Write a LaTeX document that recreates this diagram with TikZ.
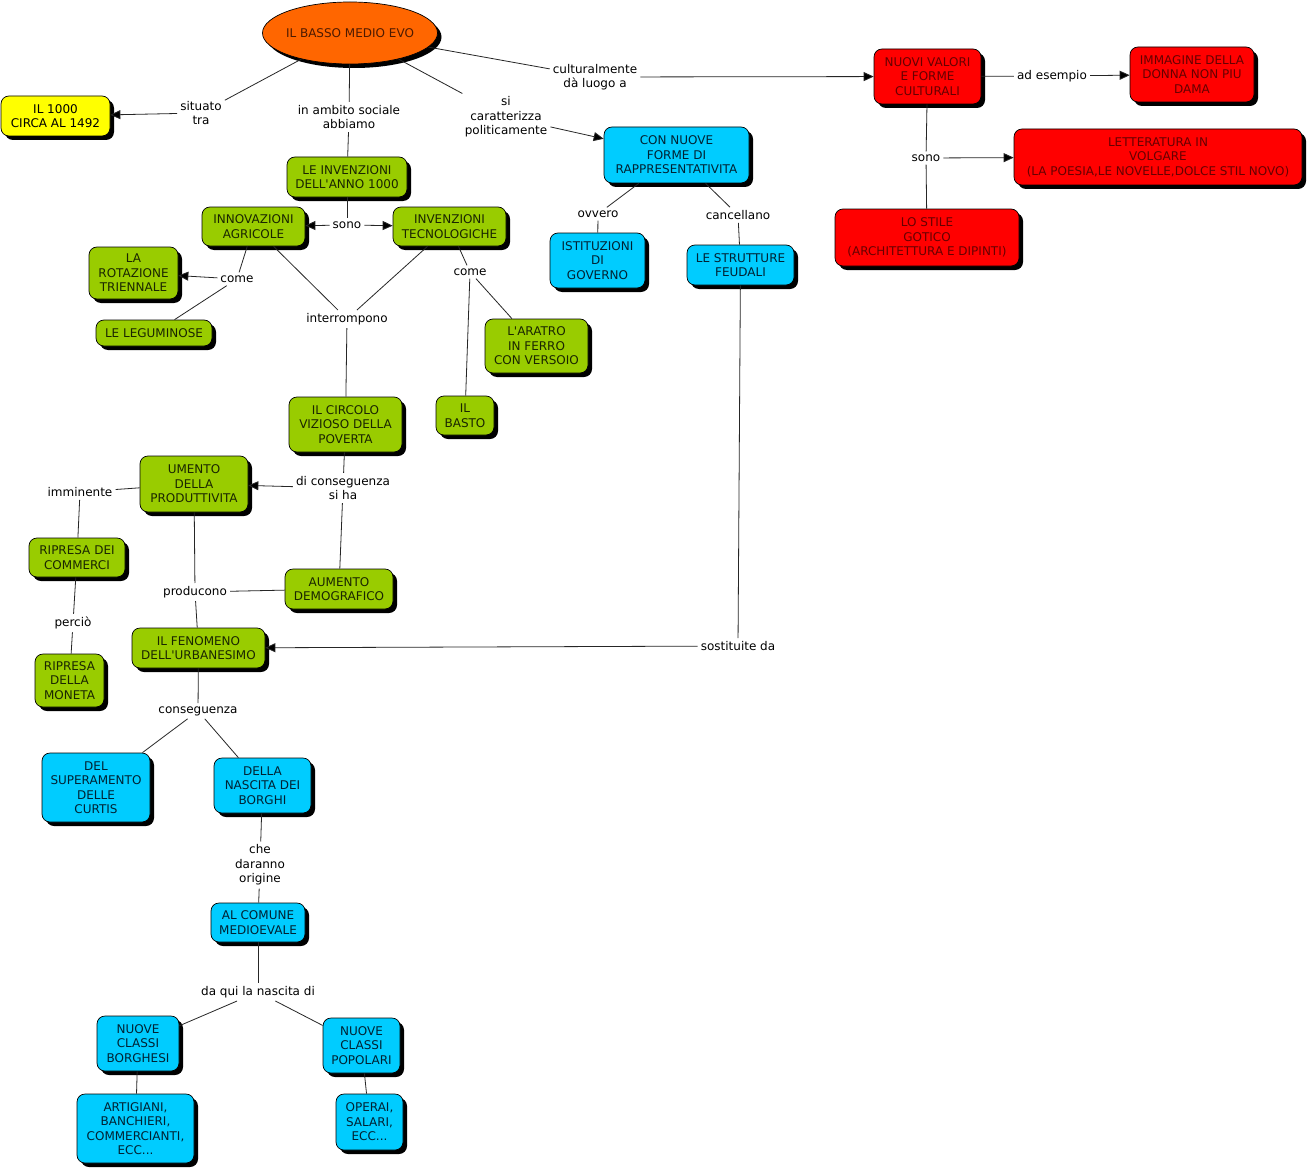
\documentclass[tikz,border=0pt]{standalone}
\usepackage{fontspec}
\setmainfont{DejaVu Sans}
\usepackage{tikz}
\usetikzlibrary{arrows.meta, shapes.geometric, shadows}

\definecolor{mapgreen}{HTML}{99CC00}
\definecolor{mapcyan}{HTML}{00CCFF}
\definecolor{mapred}{HTML}{FF0000}
\definecolor{maporange}{HTML}{FF6600}
\definecolor{mapyellow}{HTML}{FFFF00}
\definecolor{inkgreen}{HTML}{1A2600}
\definecolor{inkcyan}{HTML}{002233}
\definecolor{inkred}{HTML}{660000}
\definecolor{inkorange}{HTML}{4D1A00}

\begin{document}
\begin{tikzpicture}[x=1pt, y=-1pt, font=\fontsize{12}{14.5}\selectfont,
  box/.style={rectangle, rounded corners=8pt, draw=black, line width=0.7pt, align=center, inner sep=2pt,
    drop shadow={shadow xshift=4pt, shadow yshift=-4pt, fill=black, opacity=1}},
  greenbox/.style={box, fill=mapgreen, text=inkgreen},
  cyanbox/.style={box, fill=mapcyan, text=inkcyan},
  redbox/.style={box, fill=mapred, text=inkred},
  yellowbox/.style={box, fill=mapyellow, text=black},
  phrase/.style={align=center, inner sep=3pt, text=black},
  link/.style={draw=black!85, line width=0.8pt},
  arr/.style={link, -{Triangle[length=10pt, width=9pt, fill=black]}}]
  \fill[white] (0,0) rectangle (1308,1169);
  \useasboundingbox (0,0) rectangle (1308,1169);
  % main topic
  \node[ellipse, draw=black, line width=0.7pt, fill=maporange, text=inkorange, minimum width=175pt, minimum height=62pt, inner sep=0pt,
    drop shadow={shadow xshift=4pt, shadow yshift=-4pt, fill=black, opacity=1}] (evo) at (350,33) {\makebox[90pt]{IL BASSO MEDIO EVO}};
  \node[yellowbox, minimum width=109pt, minimum height=40pt] (anno) at (55.5,116) {IL 1000\\CIRCA AL 1492};

  % social side (green)
  \node[greenbox, minimum width=120pt, minimum height=40pt] (invenzioni) at (347,177) {LE INVENZIONI\\DELL\textquotesingle ANNO 1000};
  \node[greenbox, minimum width=103pt, minimum height=39pt] (agricole) at (253.5,226.5) {INNOVAZIONI\\AGRICOLE};
  \node[greenbox, minimum width=113pt, minimum height=39pt] (tecno) at (449.5,226.5) {INVENZIONI\\TECNOLOGICHE};
  \node[greenbox, minimum width=89pt, minimum height=52pt] (rotazione) at (133.5,273) {LA\\ROTAZIONE\\TRIENNALE};
  \node[greenbox, minimum width=116pt, minimum height=26pt] (leguminose) at (154,333) {LE LEGUMINOSE};
  \node[greenbox, minimum width=103pt, minimum height=54pt] (aratro) at (536.5,346) {L\textquotesingle ARATRO\\IN FERRO\\CON VERSOIO};
  \node[greenbox, minimum width=58pt, minimum height=39pt] (basto) at (465,415.5) {IL\\BASTO};
  \node[greenbox, minimum width=113pt, minimum height=55pt] (circolo) at (345.5,424.5) {IL CIRCOLO\\VIZIOSO DELLA\\POVERTA};
  \node[greenbox, minimum width=108pt, minimum height=56pt] (produttivita) at (194,484) {UMENTO\\DELLA\\PRODUTTIVITA};
  \node[greenbox, minimum width=96pt, minimum height=39pt] (commerci) at (77,557.5) {RIPRESA DEI\\COMMERCI};
  \node[greenbox, minimum width=108pt, minimum height=40pt] (aumento) at (339,589) {AUMENTO\\DEMOGRAFICO};
  \node[greenbox, minimum width=133pt, minimum height=40pt] (urbanesimo) at (198.5,648) {IL FENOMENO\\DELL\textquotesingle URBANESIMO};
  \node[greenbox, minimum width=69pt, minimum height=53pt] (moneta) at (69.5,680.5) {RIPRESA\\DELLA\\MONETA};

  % urban consequences (cyan)
  \node[cyanbox, minimum width=108pt, minimum height=69pt] (curtis) at (96,787.5) {DEL\\SUPERAMENTO\\DELLE\\CURTIS};
  \node[cyanbox, minimum width=97pt, minimum height=55pt] (borghi) at (262.5,785.5) {DELLA\\NASCITA DEI\\BORGHI};
  \node[cyanbox, minimum width=94pt, minimum height=39pt] (comune) at (258,922.5) {AL COMUNE\\MEDIOEVALE};
  \node[cyanbox, minimum width=82pt, minimum height=55pt] (borghesi) at (138,1043.5) {NUOVE\\CLASSI\\BORGHESI};
  \node[cyanbox, minimum width=77pt, minimum height=55pt] (popolari) at (361.5,1045.5) {NUOVE\\CLASSI\\POPOLARI};
  \node[cyanbox, minimum width=117pt, minimum height=69pt] (artigiani) at (135.5,1128.5) {ARTIGIANI,\\BANCHIERI,\\COMMERCIANTI,\\ECC...};
  \node[cyanbox, minimum width=67pt, minimum height=56pt] (operai) at (369.5,1122) {OPERAI,\\SALARI,\\ECC...};

  % political side (cyan)
  \node[cyanbox, minimum width=145pt, minimum height=56pt] (rappr) at (676.5,155) {CON NUOVE\\FORME DI\\RAPPRESENTATIVITA};
  \node[cyanbox, minimum width=95pt, minimum height=55pt] (istituzioni) at (597.5,260.5) {ISTITUZIONI\\DI\\GOVERNO};
  \node[cyanbox, minimum width=107pt, minimum height=40pt] (feudali) at (740.5,265) {LE STRUTTURE\\FEUDALI};

  % cultural side (red)
  \node[redbox, minimum width=107pt, minimum height=55pt] (nuovi) at (927.5,76.5) {NUOVI VALORI\\E FORME\\CULTURALI};
  \node[redbox, minimum width=124pt, minimum height=55pt] (immagine) at (1192,74.5) {IMMAGINE DELLA\\DONNA NON PIU\\DAMA};
  \node[redbox, minimum width=288pt, minimum height=56pt] (letteratura) at (1158,157) {LETTERATURA IN\\VOLGARE\\(LA POESIA,LE NOVELLE,DOLCE STIL NOVO)};
  \node[redbox, minimum width=184pt, minimum height=57pt] (gotico) at (927,237.5) {LO STILE\\GOTICO\\(ARCHITETTURA E DIPINTI)};

  % linking phrases
  \node[phrase] (situato) at (201,113) {situato\\tra};
  \node[phrase] (ambito) at (349,117) {in ambito sociale\\abbiamo};
  \node[phrase] (cultur) at (595,77) {culturalmente\\dà luogo a};
  \node[phrase] (politic) at (506,117) {si\\caratterizza\\politicamente};
  \node[phrase] (esempio) at (1052,76) {ad esempio};
  \node[phrase] (sonoR) at (926,158) {sono};
  \node[phrase] (sonoG) at (347,225) {sono};
  \node[phrase] (comeA) at (237,279) {come};
  \node[phrase] (comeT) at (470,272) {come};
  \node[phrase] (interr) at (347,319) {interrompono};
  \node[phrase] (ovvero) at (598,214) {ovvero};
  \node[phrase] (cancellano) at (738,215) {cancellano};
  \node[phrase] (conseg) at (343,488) {di conseguenza\\si ha};
  \node[phrase] (imminente) at (80,492) {imminente};
  \node[phrase] (producono) at (195,592) {producono};
  \node[phrase] (percio) at (73,623) {perciò};
  \node[phrase] (sostituite) at (738,646) {sostituite da};
  \node[phrase] (conseguenza) at (198,711) {conseguenza};
  \node[phrase] (origine) at (260,865) {che\\daranno\\origine};
  \node[phrase] (daqui) at (258,992) {da qui la nascita di};

  % plain connectors
  \foreach \a/\b in {evo/situato, evo/ambito, ambito/invenzioni, evo/cultur, evo/politic,
      nuovi/esempio, nuovi/sonoR, sonoR/gotico, invenzioni/sonoG,
      agricole/comeA, comeA/leguminose, agricole/interr, tecno/interr, interr/circolo,
      tecno/comeT, comeT/aratro, comeT/basto,
      rappr/ovvero, ovvero/istituzioni, rappr/cancellano, cancellano/feudali, feudali/sostituite,
      circolo/conseg, conseg/aumento, produttivita/imminente, imminente/commerci,
      commerci/percio, percio/moneta, produttivita/producono, aumento/producono, producono/urbanesimo,
      urbanesimo/conseguenza, conseguenza/curtis, conseguenza/borghi, borghi/origine, origine/comune,
      comune/daqui, daqui/borghesi, daqui/popolari, borghesi/artigiani, popolari/operai}
    \draw[link] (\a) -- (\b);
  % arrows
  \foreach \a/\b in {situato/anno, cultur/nuovi, politic/rappr, esempio/immagine, sonoR/letteratura,
      sonoG/agricole, sonoG/tecno, comeA/rotazione, sostituite/urbanesimo, conseg/produttivita}
    \draw[arr] (\a) -- (\b);
\end{tikzpicture}
\end{document}
